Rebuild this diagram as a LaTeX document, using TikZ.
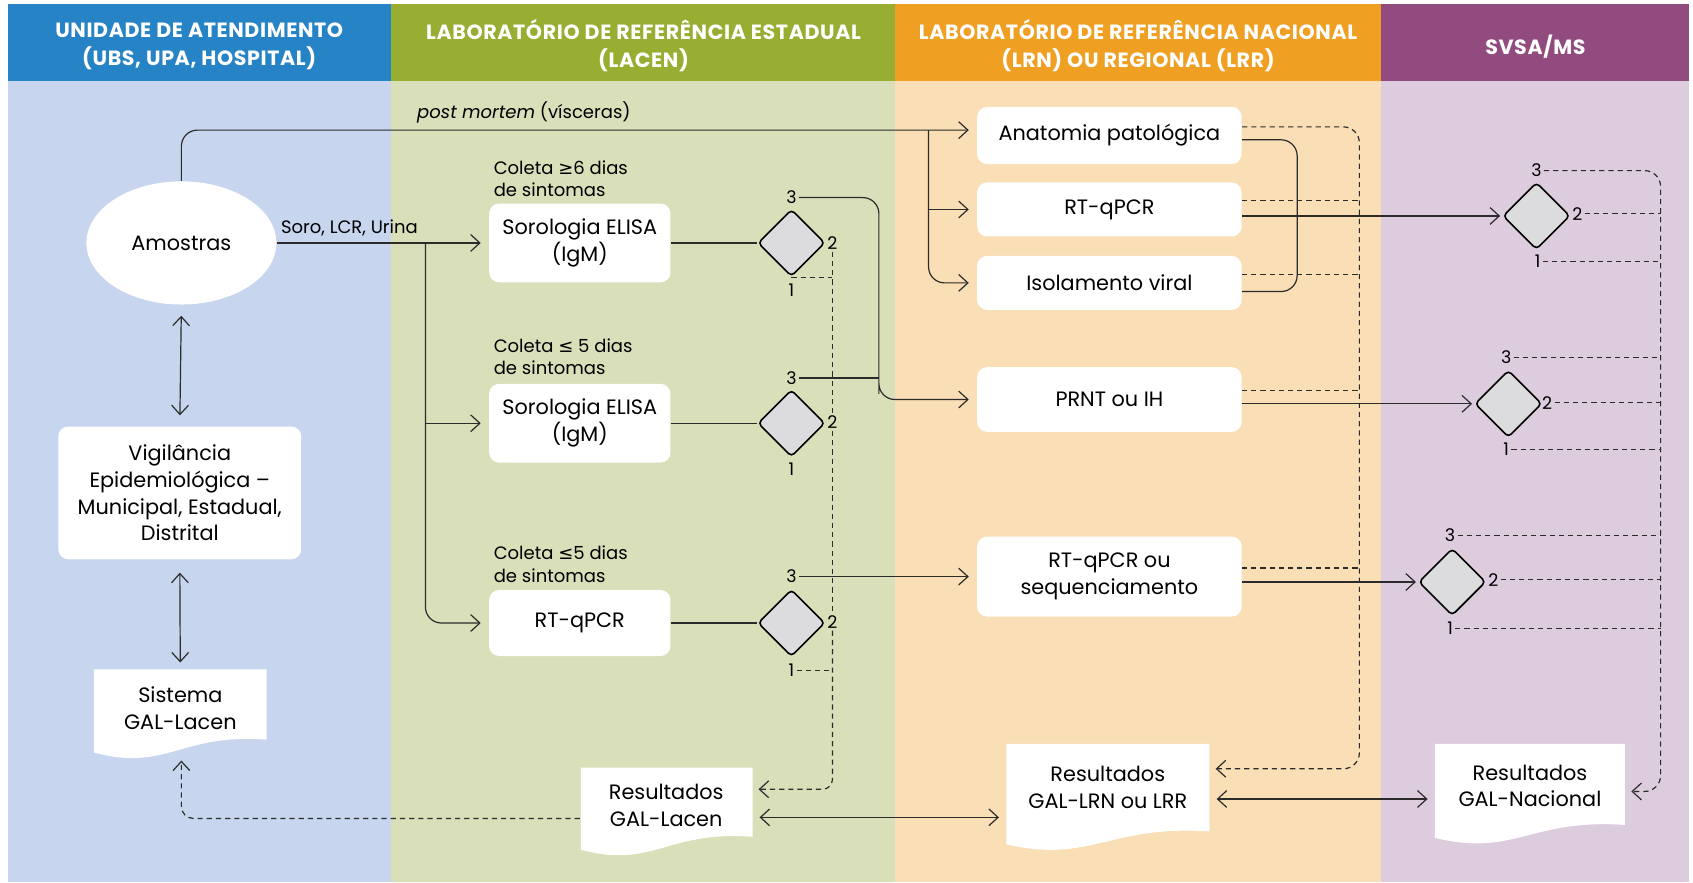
\documentclass[tikz,border=0pt]{standalone}
\usepackage{fontspec}
\setmainfont{Poppins}
\newfontfamily\symbfont{DejaVu Sans}
\newfontfamily\headfont[LetterSpace=3]{Poppins}
\usetikzlibrary{arrows.meta,shapes.geometric,calc}

\definecolor{headblue}{HTML}{2683C6}
\definecolor{headgreen}{HTML}{97AE32}
\definecolor{headorange}{HTML}{EFA022}
\definecolor{headpurple}{HTML}{924B7E}
\definecolor{bgblue}{HTML}{C7D5EE}
\definecolor{bggreen}{HTML}{D8DFB9}
\definecolor{bgorange}{HTML}{F9DEB6}
\definecolor{bgpurple}{HTML}{DDCCDD}
\definecolor{decgray}{HTML}{DCDCDE}
\definecolor{linecol}{HTML}{2B2B2B}

\tikzset{
  head/.style={text=white, align=center, font=\headfont\bfseries\fontsize{10.3}{14}\selectfont},
  box/.style={fill=white, rounded corners=5pt, align=center, inner sep=0pt},
  doctext/.style={align=center, inner sep=0pt},
  decision/.style={diamond, draw=black, line width=0.8pt, fill=decgray, rounded corners=2pt, minimum size=33.5pt, inner sep=0pt},
  num/.style={font=\fontsize{8.7}{10}\selectfont, inner sep=1pt},
  note/.style={font=\fontsize{9}{11.3}\selectfont, align=left, inner sep=0pt},
  link/.style={draw=linecol, line width=0.6pt},
  arr/.style={link, -{Straight Barb[length=4.6pt,width=8.4pt]}, shorten >=4pt},
  dbl/.style={link, {Straight Barb[length=4.6pt,width=8.4pt]}-{Straight Barb[length=4.6pt,width=8.4pt]}, shorten >=3.5pt, shorten <=3.5pt},
  dashline/.style={link, dash pattern=on 2.6pt off 2pt},
  darr/.style={dashline, -{Straight Barb[length=4.6pt,width=8.4pt]}, shorten >=3pt},
}

% white document shape with a wavy bottom
\newcommand{\docfill}[4]{%
  \fill[white] (#1,#4+12) -- (#1,#2) -- (#3,#2) -- (#3,#4)
    .. controls ({#1+0.5*(#3-#1)},#4-6) and ({#1+0.42*(#3-#1)},#4+30) .. (#1,#4+12) -- cycle;}

\begin{document}
\begin{tikzpicture}[x=0.54pt, y=-0.54pt, font=\fontsize{10.4}{13.3}\selectfont]
    \useasboundingbox (0,0) rectangle (1568,817);

    % Column backgrounds
    \fill[bgblue] (7,75) rectangle (362,817);
    \fill[bggreen] (362,75) rectangle (829,817);
    \fill[bgorange] (829,75) rectangle (1279,817);
    \fill[bgpurple] (1279,75) rectangle (1564,817);

    % Column headers
    \fill[headblue] (7,4) rectangle (362,75);
    \fill[headgreen] (362,4) rectangle (829,75);
    \fill[headorange] (829,4) rectangle (1279,75);
    \fill[headpurple] (1279,4) rectangle (1564,75);
    \node[head] (h1) at (184.5,43) {UNIDADE DE ATENDIMENTO\\(UBS, UPA, HOSPITAL)};
    \node[head] (h2) at (596,42) {LABORATÓRIO DE REFERÊNCIA ESTADUAL\\(LACEN)};
    \node[head] (h3) at (1054,42) {LABORATÓRIO DE REFERÊNCIA NACIONAL\\(LRN) OU REGIONAL (LRR)};
    \node[head] (h4) at (1422,43) {SVSA/MS};

    % Document shapes
    \docfill{87}{620}{247}{685}
    \docfill{538}{711}{697}{775}
    \docfill{932}{689}{1120}{770}
    \docfill{1329}{689}{1505}{764}

    % Unidade de atendimento
    \node[ellipse, fill=white, minimum width=95pt, minimum height=61.6pt, inner sep=0pt] (amos) at (168,225) {Amostras};
    \node[box, minimum width=121.5pt, minimum height=66.4pt] (vig) at (166.5,456.5) {Vigilância\\Epidemiológica –\\Municipal, Estadual,\\Distrital};
    \node[doctext, minimum width=86.4pt, minimum height=37.8pt] (sis) at (167,656) {Sistema\\GAL-Lacen};
    \node[note, anchor=west] (pmlab) at (386,104) {\textit{post mortem} (vísceras)};
    \node[note, anchor=west] (solab) at (260,211) {Soro, LCR, Urina};

    % LACEN
    \node[box, minimum width=90.7pt, minimum height=39.4pt, font=\fontsize{10.4}{13.5}\selectfont] (sor1) at (537,225) {Sorologia ELISA\\(IgM)};
    \node[box, minimum width=90.7pt, minimum height=39.4pt, font=\fontsize{10.4}{13.5}\selectfont] (sor2) at (537,392) {Sorologia ELISA\\(IgM)};
    \node[box, minimum width=90.7pt, minimum height=33pt] (rtl) at (537,577) {RT-qPCR};
    \node[note, anchor=west] (c1) at (457,165.5) {Coleta {\symbfont ≥}6 dias\\de sintomas};
    \node[note, anchor=west] (c2) at (457,330.5) {Coleta {\symbfont ≤} 5 dias\\de sintomas};
    \node[note, anchor=west] (c3) at (457,522.5) {Coleta {\symbfont ≤}5 dias\\de sintomas};
    \node[decision] (d1) at (733,225) {};
    \node[decision] (d2) at (733,392) {};
    \node[decision] (d3) at (733,577) {};
    \node[num] (d1t) at (733,183) {3};
    \node[num] (d1r) at (771,225) {2};
    \node[num] (d1b) at (733,269) {1};
    \node[num] (d2t) at (733,350) {3};
    \node[num] (d2r) at (771,391) {2};
    \node[num] (d2b) at (733,435) {1};
    \node[num] (d3t) at (733,534) {3};
    \node[num] (d3r) at (771,576) {2};
    \node[num] (d3b) at (733,621) {1};
    \node[doctext, minimum width=86pt, minimum height=34.5pt] (resl) at (617,746) {Resultados\\GAL-Lacen};

    % LRN / LRR
    \node[box, minimum width=132.3pt, minimum height=28.6pt] (anat) at (1027.5,125.5) {Anatomia patológica};
    \node[box, minimum width=132.3pt, minimum height=27pt] (rtq) at (1027.5,194) {RT-qPCR};
    \node[box, minimum width=132.3pt, minimum height=27pt] (iso) at (1027.5,262) {Isolamento viral};
    \node[box, minimum width=132.3pt, minimum height=32.4pt] (prnt) at (1027.5,370) {PRNT ou IH};
    \node[box, minimum width=132.3pt, minimum height=40pt, font=\fontsize{10.4}{13.5}\selectfont] (rtseq) at (1027.5,534) {RT-qPCR ou\\sequenciamento};
    \node[doctext, minimum width=101.5pt, minimum height=43pt] (resn) at (1026,729) {Resultados\\GAL-LRN ou LRR};

    % SVSA/MS
    \node[decision] (s1) at (1423,200) {};
    \node[decision] (s2) at (1397,374) {};
    \node[decision] (s3) at (1345,539) {};
    \node[num] (s1t) at (1423,158) {3};
    \node[num] (s1r) at (1461,198) {2};
    \node[num] (s1b) at (1424,242) {1};
    \node[num] (s2t) at (1395,331) {3};
    \node[num] (s2r) at (1433,373) {2};
    \node[num] (s2b) at (1395,416) {1};
    \node[num] (s3t) at (1343,496) {3};
    \node[num] (s3r) at (1383,537) {2};
    \node[num] (s3b) at (1343,582) {1};
    \node[doctext, minimum width=95pt, minimum height=40pt] (resnac) at (1417,728) {Resultados\\GAL-Nacional};

    % Samples to the laboratories
    \coordinate (pmj) at (860,120.5);
    \coordinate (soj) at (394,225);
    \draw[arr, rounded corners=8pt] (amos.north) |- ($(anat.west)+(0,-5)$);
    \draw[arr, rounded corners=8pt] (pmj) |- (iso.west);
    \draw[arr] (pmj |- rtq.west) -- (rtq.west);
    \draw[arr] (amos.east) -- (sor1.west);
    \draw[arr, rounded corners=8pt] (soj) |- (rtl.west);
    \draw[arr] (soj |- sor2.west) -- (sor2.west);
    \draw[dbl, shorten <=5.4pt, shorten >=5.4pt] (amos.south) -- (vig.north);
    \draw[dbl, shorten <=6.5pt, shorten >=3.8pt] (vig.south) -- (sis.north);

    % LACEN decisions
    \foreach \a/\b in {sor1/d1, sor2/d2, rtl/d3}
        \draw[link] (\a.east) -- (\b.west);
    \coordinate (jn) at (814,350);
    \draw[arr, rounded corners=8pt] (d1t.east) -| (jn) |- (prnt.west);
    \draw[link] (d2t.east) -- (d2t.east -| jn);
    \draw[arr] (d3t.east) -- (rtseq.west);

    % LACEN results (dashed)
    \coordinate (lacv) at (771,731);
    \draw[dashline] (d1r.south) -- (d2r.north);
    \draw[dashline] (d2r.south) -- (d3r.north);
    \draw[darr, rounded corners=5pt] (d3r.south) -- (lacv) -- (lacv -| resl.east);
    \draw[dashline] (d1.south) -- (d1.south -| lacv);
    \draw[dashline] (d3b.east) -- (d3b.east -| lacv);
    \draw[darr, rounded corners=6pt, shorten >=0pt] ($(resl.west)+(0,12)$) -| ($(sis.south)+(1,13)$);

    % LRN results (dashed) and links
    \coordinate (lrnv) at (1259,712);
    \draw[darr, rounded corners=8pt] ($(anat.east)+(0,-8)$) -| (lrnv) -- (lrnv -| resn.east);
    \foreach \b in {rtq,iso,prnt,rtseq}
        \draw[dashline] ($(\b.east)+(0,-8)$) -- ($(\b.east -| lrnv)+(0,-8)$);
    \draw[link, rounded corners=8pt] ($(anat.east)+(0,4)$) -| ($(iso.east)+(51,8)$) -- ($(iso.east)+(0,8)$);
    \draw[arr, shorten >=1pt] (s1.west -| rtq.east) -- (s1.west);
    \draw[arr, shorten >=1pt] (s2.west -| prnt.east) -- (s2.west);
    \draw[arr, shorten >=1pt] (s3.west -| rtseq.east) -- (s3.west);

    % SVSA results (dashed)
    \coordinate (svv) at (1538,733);
    \draw[darr, rounded corners=8pt] (s1t.east) -| (svv) -- (svv -| resnac.east);
    \foreach \l in {s1r,s1b,s2t,s2r,s2b,s3t,s3r,s3b}
        \draw[dashline] (\l.east) -- (\l.east -| svv);

    % Results exchange
    \draw[dbl] ($(resl.east)+(0,11)$) -- ($(resl.east -| resn.west)+(0,11)$);
    \draw[dbl] ($(resn.east)+(0,11)$) -- ($(resn.east -| resnac.west)+(0,11)$);
\end{tikzpicture}
\end{document}
